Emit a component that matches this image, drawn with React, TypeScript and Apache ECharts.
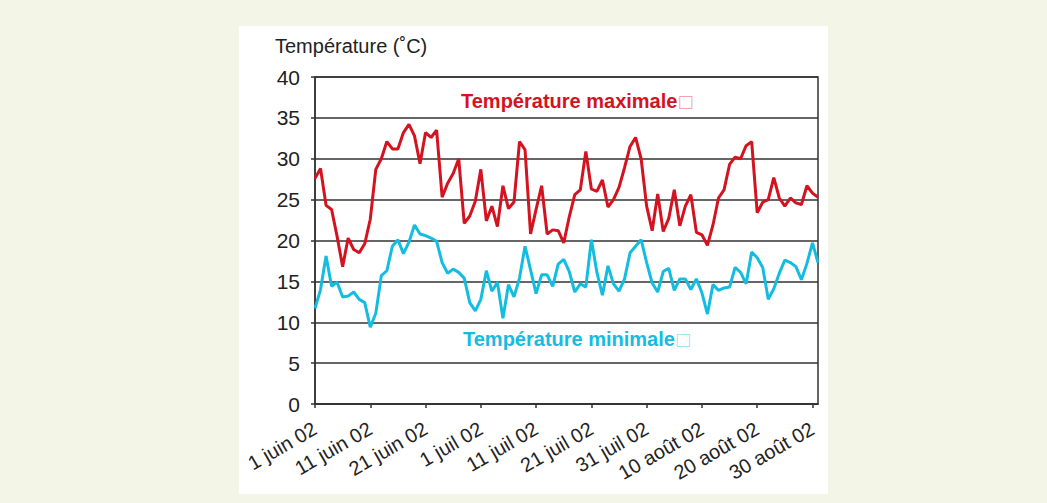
import React, { useEffect, useRef } from "react";
import * as echarts from "echarts";

// Months covered (June 1 – Aug 31, 2002)
const monthNames = ["juin", "juil", "août"];
const monthDays = [30, 31, 31];

// Daily max temperatures (°C)
const tMax = [
  27.6, 28.8, 24.3, 23.8, 20.5, 16.8, 20.3, 18.9, 18.5, 19.6,
  22.6, 28.7, 30.0, 32.1, 31.2, 31.2, 33.2, 34.2, 32.8, 29.4,
  33.2, 32.6, 33.5, 25.3, 27.0, 28.2, 30.0, 22.1, 23.0, 24.8,
  28.7, 22.4, 24.2, 21.7, 26.7, 23.9, 24.7, 32.1, 31.1, 20.8,
  23.8, 26.7, 20.8, 21.3, 21.2, 19.7, 22.9, 25.6, 26.2, 30.9,
  26.3, 26.0, 27.4, 24.1, 25.0, 26.5, 28.9, 31.5, 32.6, 30.0,
  24.2, 21.2, 25.7, 21.1, 22.7, 26.2, 21.8, 24.2, 25.6, 21.0,
  20.7, 19.4, 21.9, 25.2, 26.2, 29.3, 30.2, 30.0, 31.6, 32.1,
  23.4, 24.7, 25.0, 27.7, 25.2, 24.2, 25.2, 24.6, 24.4, 26.7,
  25.8, 25.3,
];

// Daily min temperatures (°C)
const tMin = [
  11.7, 14.0, 18.1, 14.4, 14.9, 13.1, 13.2, 13.7, 12.8, 12.4,
  9.4, 11.1, 15.7, 16.3, 19.3, 20.1, 18.4, 19.8, 21.9, 20.8,
  20.6, 20.3, 19.9, 17.3, 16.0, 16.5, 16.1, 15.4, 12.4, 11.4,
  12.8, 16.3, 13.8, 14.9, 10.5, 14.6, 13.1, 15.4, 19.3, 16.4,
  13.5, 15.8, 15.8, 14.4, 17.1, 17.7, 16.2, 13.7, 14.7, 14.3,
  20.1, 16.1, 13.3, 16.9, 14.7, 13.8, 15.3, 18.5, 19.3, 20.1,
  17.3, 14.8, 13.7, 16.2, 16.6, 13.9, 15.3, 15.3, 14.0, 15.3,
  13.6, 11.0, 14.6, 13.9, 14.2, 14.3, 16.7, 16.1, 14.7, 18.6,
  17.9, 16.7, 12.8, 14.1, 16.0, 17.6, 17.3, 16.8, 15.2, 17.2,
  19.7, 17.3,
];

const yTicks = { min: 0, max: 40, interval: 5 };
const labelEvery = 10;

const categories: string[] = [];
monthNames.forEach((m, k) => {
  for (let d = 1; d <= monthDays[k]; d++) categories.push(`${d} ${m} 02`);
});

const RED = "#d3131f";
const CYAN = "#14bde0";
const FONT = "'Liberation Sans', Arial, Helvetica, sans-serif";

export default function App() {
  const ref = useRef<HTMLDivElement>(null);
  useEffect(() => {
    if (!ref.current) return;
    const chart = echarts.init(ref.current, null, { renderer: "svg" });
    const showIdx = (i: number) => i % labelEvery === 0;
    chart.setOption({
      animation: false,
      backgroundColor: "#ffffff",
      textStyle: { fontFamily: FONT },
      grid: {
        left: 76,
        top: 51,
        right: 10,
        bottom: 90,
        show: true,
        borderColor: "#333",
        borderWidth: 1.5,
        backgroundColor: "transparent",
      },
      xAxis: {
        type: "category",
        data: categories,
        boundaryGap: false,
        axisLine: { lineStyle: { color: "#333", width: 1.5 } },
        axisTick: { show: true, interval: (i: number) => showIdx(i), length: 4, lineStyle: { color: "#333", width: 1.5 } },
        axisLabel: {
          interval: (i: number) => showIdx(i),
          rotate: 30,
          margin: 23,
          fontSize: 20,
          color: "#222",
          fontFamily: FONT,
        },
        splitLine: { show: false },
      },
      yAxis: {
        type: "value",
        min: yTicks.min,
        max: yTicks.max,
        interval: yTicks.interval,
        axisLine: { show: true, lineStyle: { color: "#333", width: 1.5 } },
        axisTick: { show: true, length: 4, lineStyle: { color: "#333", width: 1.5 } },
        axisLabel: { fontSize: 21, color: "#222", margin: 15, fontFamily: FONT },
        splitLine: { show: true, lineStyle: { color: "#333", width: 1.6 } },
      },
      series: [
        {
          name: "Température maximale",
          type: "line",
          data: tMax,
          symbol: "none",
          lineStyle: { color: RED, width: 3 },
          itemStyle: { color: RED },
          z: 3,
        },
        {
          name: "Température minimale",
          type: "line",
          data: tMin,
          symbol: "none",
          lineStyle: { color: CYAN, width: 3 },
          itemStyle: { color: CYAN },
          z: 3,
        },
      ],
      graphic: [
        {
          type: "text",
          left: 36,
          top: 10,
          style: { text: "Température (˚C)", font: `20px ${FONT}`, fill: "#222" },
        },
        {
          type: "text",
          left: 222,
          top: 65,
          style: {
            text: "{a|Température maximale}{b|□}",
            rich: {
              a: { fontWeight: "bold", fontSize: 20, fontFamily: FONT, fill: RED },
              b: { fontSize: 17, fontFamily: "'DejaVu Sans', sans-serif", fill: "#f2a5ad" },
            },
          },
        },
        {
          type: "text",
          left: 224,
          top: 303,
          style: {
            text: "{a|Température minimale}{b|□}",
            rich: {
              a: { fontWeight: "bold", fontSize: 20, fontFamily: FONT, fill: CYAN },
              b: { fontSize: 17, fontFamily: "'DejaVu Sans', sans-serif", fill: "#9fe2f1" },
            },
          },
        },
      ],
    });
    return () => chart.dispose();
  }, []);

  return (
    <div
      style={{
        position: "fixed",
        left: 0,
        top: 0,
        width: 1047,
        height: 503,
        background: "#f3f6e7",
      }}
    >
      <div
        ref={ref}
        style={{ position: "absolute", left: 239, top: 26, width: 589, height: 468 }}
      />
    </div>
  );
}
